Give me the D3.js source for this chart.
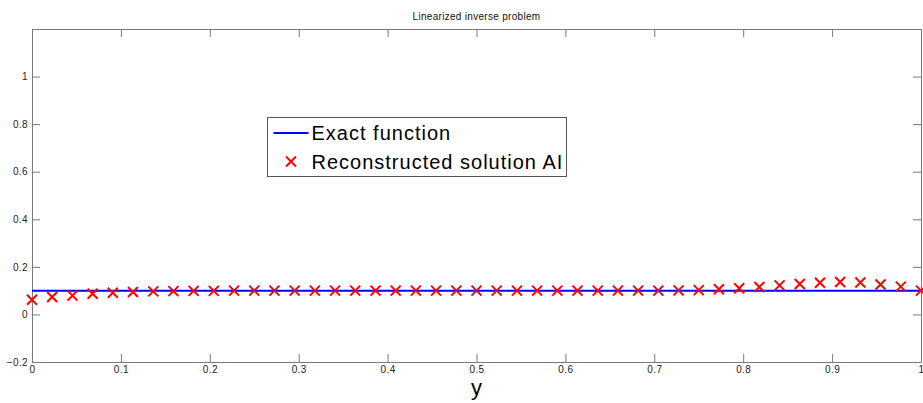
<!DOCTYPE html>
<html>
<head>
<meta charset="utf-8">
<script src="https://cdn.jsdelivr.net/npm/d3@7"></script>
<style>
  body { margin: 0; background: #fff; }
  svg { display: block; font-family: "Liberation Sans", Arial, sans-serif; }
  .axis path, .axis line { stroke: #7a7a7a; }
  .axis text { fill: #222; font-size: 10px; letter-spacing: 0.4px; }
</style>
</head>
<body>
<svg id="chart" width="923" height="403"></svg>
<script>
// sample points of the reconstruction
var xValues = [0, 0.0227, 0.0455, 0.0682, 0.0909, 0.1136, 0.1364, 0.1591, 0.1818, 0.2045,
    0.2273, 0.25, 0.2727, 0.2955, 0.3182, 0.3409, 0.3636, 0.3864, 0.4091, 0.4318,
    0.4545, 0.4773, 0.5, 0.5227, 0.5455, 0.5682, 0.5909, 0.6136, 0.6364, 0.6591,
    0.6818, 0.7045, 0.7273, 0.75, 0.7727, 0.7955, 0.8182, 0.8409, 0.8636, 0.8864,
    0.9091, 0.9318, 0.9545, 0.9773, 1];
var reconstructed = [0.062, 0.073, 0.079, 0.087, 0.091, 0.094, 0.097, 0.098, 0.099, 0.099,
    0.1, 0.1, 0.1, 0.1, 0.1, 0.1, 0.1, 0.1, 0.1, 0.1,
    0.1, 0.1, 0.1, 0.1, 0.1, 0.1, 0.1, 0.1, 0.1, 0.1,
    0.1, 0.1, 0.101, 0.102, 0.106, 0.11, 0.115, 0.122, 0.128, 0.133,
    0.136, 0.134, 0.126, 0.117, 0.1];
// exact function (constant)
var exactX = [0, 1];
var exactY = [0.1, 0.1];

var xTicks = [0, 0.1, 0.2, 0.3, 0.4, 0.5, 0.6, 0.7, 0.8, 0.9, 1];
var yTicks = [-0.2, 0, 0.2, 0.4, 0.6, 0.8, 1];

var svg = d3.select("#chart"),
    margin = {top: 29, right: 2, bottom: 41, left: 32},
    width = +svg.attr("width") - margin.left - margin.right,
    height = +svg.attr("height") - margin.top - margin.bottom;

var x = d3.scaleLinear().domain([0, 1]).range([0, width]),
    y = d3.scaleLinear().domain([-0.2, 1.2]).range([height, 0]);

var g = svg.append("g")
    .attr("transform", "translate(" + margin.left + "," + margin.top + ")");

var fmt = function (d) { return d3.format("")(+d.toFixed(1)); };

// bottom / left axes with labels, ticks pointing inward
g.append("g")
    .attr("class", "axis")
    .attr("transform", "translate(0," + height + ")")
    .call(d3.axisBottom(x).tickValues(xTicks).tickSizeInner(-8).tickSizeOuter(0).tickPadding(4).tickFormat(fmt));

g.append("g")
    .attr("class", "axis")
    .call(d3.axisLeft(y).tickValues(yTicks).tickSizeInner(-8).tickSizeOuter(0).tickPadding(4).tickFormat(fmt));

// top / right axes, ticks only
g.append("g")
    .attr("class", "axis")
    .call(d3.axisTop(x).tickValues(xTicks).tickSizeInner(-8).tickSizeOuter(0).tickFormat(""));

g.append("g")
    .attr("class", "axis")
    .attr("transform", "translate(" + width + ",0)")
    .call(d3.axisRight(y).tickValues(yTicks).tickSizeInner(-8).tickSizeOuter(0).tickFormat(""));

// exact function line
var line = d3.line()
    .x(function (d, i) { return x(exactX[i]); })
    .y(function (d) { return y(d); });

g.append("path")
    .datum(exactY)
    .attr("fill", "none")
    .attr("stroke", "#0000ff")
    .attr("stroke-width", 2)
    .attr("d", line);

// reconstructed markers
var cross = "M-5,-5L5,5M-5,5L5,-5";
g.selectAll(".mark")
    .data(reconstructed)
    .enter().append("path")
    .attr("class", "mark")
    .attr("transform", function (d, i) {
        return "translate(" + x(xValues[i]) + "," + y(d) + ")";
    })
    .attr("d", cross)
    .attr("fill", "none")
    .attr("stroke", "#ff0000")
    .attr("stroke-width", 2);

// title
svg.append("text")
    .attr("x", margin.left + width / 2)
    .attr("y", 20)
    .attr("text-anchor", "middle")
    .style("font-size", "10px")
    .style("letter-spacing", "0.3px")
    .attr("fill", "#111")
    .text("Linearized inverse problem");

// x label
svg.append("text")
    .attr("x", margin.left + width / 2)
    .attr("y", 395)
    .attr("text-anchor", "middle")
    .style("font-size", "22px")
    .attr("fill", "#000")
    .text("y");

// legend
var legend = svg.append("g").attr("transform", "translate(267.5,117.5)");
legend.append("rect")
    .attr("width", 299)
    .attr("height", 59)
    .attr("fill", "#fff")
    .attr("stroke", "#555")
    .attr("stroke-width", 1);
legend.append("line")
    .attr("x1", 6).attr("x2", 41)
    .attr("y1", 15.5).attr("y2", 15.5)
    .attr("stroke", "#0000ff")
    .attr("stroke-width", 2);
legend.append("text")
    .attr("x", 44).attr("y", 22)
    .style("font-size", "20px")
    .style("letter-spacing", "1px")
    .text("Exact function");
legend.append("path")
    .attr("transform", "translate(23.5,44)")
    .attr("d", cross)
    .attr("fill", "none")
    .attr("stroke", "#ff0000")
    .attr("stroke-width", 2);
legend.append("text")
    .attr("x", 44).attr("y", 51)
    .style("font-size", "20px")
    .style("letter-spacing", "1px")
    .text("Reconstructed solution AI");
</script>
</body>
</html>
